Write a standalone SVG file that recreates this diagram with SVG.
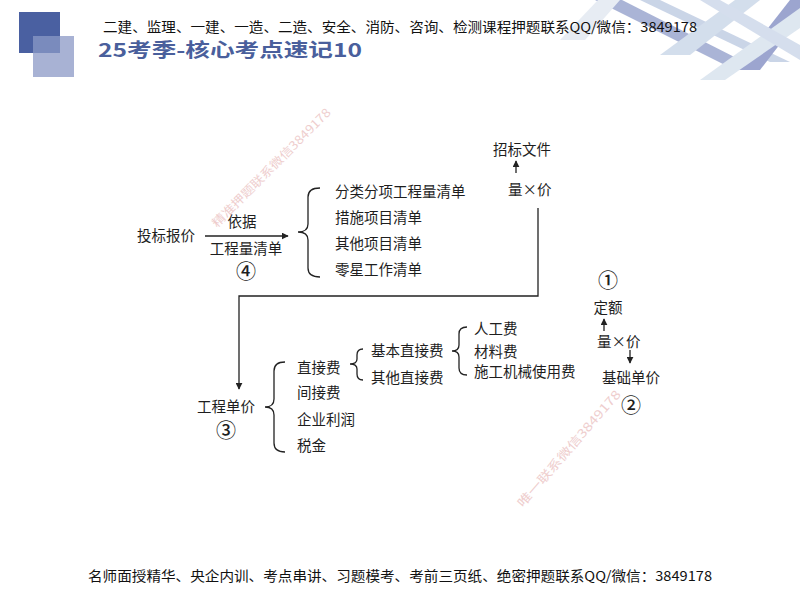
<svg xmlns="http://www.w3.org/2000/svg" width="800" height="600" viewBox="0 0 800 600">
<style>
.t{font-family:"Noto Sans CJK SC","Liberation Sans",sans-serif;font-size:14.5px;fill:#1e1e1e}
.c{font-family:"Noto Sans CJK SC","Liberation Sans",sans-serif;font-size:20px;font-weight:500;fill:#1e1e1e}
.hd{font-family:"Noto Sans CJK SC","Liberation Sans",sans-serif;font-size:13.5px;fill:#111}
.ln{fill:none;stroke:#222;stroke-width:1.3}
.br{fill:none;stroke:#222;stroke-width:1.3}
.wm{font-family:"Noto Sans CJK SC","Liberation Serif",serif;fill:#e2a6a6;opacity:0.55}
</style>
<defs>
<marker id="ah" viewBox="0 0 10 10" refX="9" refY="5" markerWidth="7" markerHeight="7" orient="auto" markerUnits="userSpaceOnUse">
<path d="M0,0 L10,5 L0,10 z" fill="#222"/>
</marker>
</defs>
<rect width="800" height="600" fill="#fff"/>
<g id="header">
<rect x="19" y="12" width="41" height="41" fill="#4a60a1"/>
<rect x="33" y="36" width="41" height="41" fill="#a3aed2" opacity="0.95"/>
<rect x="33" y="36" width="27" height="17" fill="#7a8bbd"/>
<g opacity="0.75">
<polygon points="595,0 622,0 760,70 735,70" fill="#8e9bc9"/>
<polygon points="640,0 660,0 790,62 770,62" fill="#b9c7e0"/>
<polygon points="735,70 760,70 800,18 800,0 790,0" fill="#7c88c0"/>
<polygon points="660,55 690,55 760,0 735,0" fill="#c5d3e6"/>
<polygon points="700,80 725,80 800,28 800,8" fill="#d3dfec"/>
<polygon points="560,40 585,40 620,0 598,0" fill="#dfe6f0"/>
<polygon points="700,0 720,0 800,45 800,60" fill="#c8d4e8"/>
</g>
<text class="hd" x="103" y="32" textLength="594" lengthAdjust="spacingAndGlyphs">二建、监理、一建、一造、二造、安全、消防、咨询、检测课程押题联系QQ/微信：3849178</text>
<text x="98" y="57" textLength="264" lengthAdjust="spacingAndGlyphs" style="font-family:'Noto Sans CJK SC','Liberation Sans',sans-serif;font-size:19px;font-weight:bold;fill:#4a5f9c">25考季-核心考点速记10</text>
</g>
<g id="watermarks">
<text class="wm" x="217" y="228" font-size="12" transform="rotate(-45 217 228)" textLength="162" lengthAdjust="spacingAndGlyphs">精准押题联系微信3849178</text>
<text class="wm" x="523" y="508" font-size="12" transform="rotate(-49 523 508)" textLength="150" lengthAdjust="spacingAndGlyphs">唯一联系微信3849178</text>
</g>
<g id="connectors">
<line class="ln" x1="205" y1="236" x2="288" y2="236" marker-end="url(#ah)"/>
<line class="ln" x1="516" y1="173" x2="516" y2="161" marker-end="url(#ah)"/>
<polyline class="ln" points="538,208 538,296 239,296 239,389" marker-end="url(#ah)"/>
<line class="ln" x1="604" y1="331" x2="604" y2="319" marker-end="url(#ah)"/>
<line class="ln" x1="630" y1="350" x2="630" y2="363" marker-end="url(#ah)"/>
<path class="br" d="M320,188 Q308,188 308,197 L308,224 Q308,232 298,232 Q308,232 308,240 L308,268 Q308,277 320,277"/>
<path class="br" d="M285,362 Q274,362 274,371 L274,399 Q274,407 265,407 Q274,407 274,415 L274,443 Q274,452 285,452"/>
<path class="br" d="M363,349 Q357,349 357,355 L357,359 Q357,364 350,364 Q357,364 357,369 L357,374 Q357,380 363,380"/>
<path class="br" d="M467,327 Q459,327 459,334 L459,345 Q459,351 452,351 Q459,351 459,357 L459,368 Q459,375 467,375"/>
</g>
<g id="n-toubiao"><text class="t" x="137" y="241">投标报价</text></g>
<g id="n-yiju"><text class="t" x="242" y="227" text-anchor="middle">依据</text></g>
<g id="n-gcl"><text class="t" x="246" y="254" text-anchor="middle">工程量清单</text><text class="c" x="246" y="279" text-anchor="middle">④</text></g>
<g id="n-list1">
<text class="t" x="335" y="197">分类分项工程量清单</text>
<text class="t" x="335" y="223">措施项目清单</text>
<text class="t" x="335" y="249">其他项目清单</text>
<text class="t" x="335" y="275">零星工作清单</text>
</g>
<g id="n-zhaobiao"><text class="t" x="493" y="155">招标文件</text></g>
<g id="n-ljj1"><text class="t" x="508" y="195">量×价</text></g>
<g id="n-gcdj"><text class="t" x="197" y="412">工程单价</text><text class="c" x="226" y="438" text-anchor="middle">③</text></g>
<g id="n-list2">
<text class="t" x="297" y="373">直接费</text>
<text class="t" x="297" y="398">间接费</text>
<text class="t" x="297" y="425">企业利润</text>
<text class="t" x="297" y="451">税金</text>
</g>
<g id="n-list3">
<text class="t" x="371" y="356">基本直接费</text>
<text class="t" x="371" y="383">其他直接费</text>
</g>
<g id="n-list4">
<text class="t" x="474" y="334">人工费</text>
<text class="t" x="474" y="357">材料费</text>
<text class="t" x="474" y="377">施工机械使用费</text>
</g>
<g id="n-right">
<text class="c" x="608" y="288" text-anchor="middle">①</text>
<text class="t" x="608" y="313" text-anchor="middle">定额</text>
<text class="t" x="597" y="347">量×价</text>
<text class="t" x="602" y="383">基础单价</text>
<text class="c" x="631" y="413" text-anchor="middle">②</text>
</g>
<g id="footer">
<text class="hd" x="88" y="581" textLength="624" lengthAdjust="spacingAndGlyphs">名师面授精华、央企内训、考点串讲、习题模考、考前三页纸、绝密押题联系QQ/微信：3849178</text>
</g>
</svg>
